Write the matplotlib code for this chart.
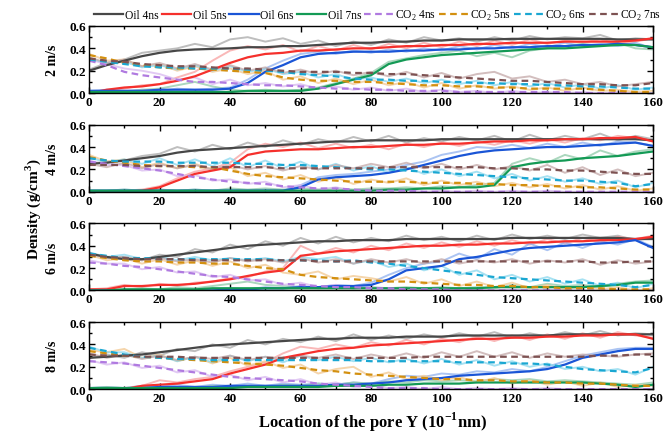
import numpy as np
import matplotlib
matplotlib.use('Agg')
import matplotlib.pyplot as plt
from matplotlib.ticker import MultipleLocator

plt.rcParams['font.family'] = ['Liberation Serif', 'DejaVu Serif']
plt.rcParams['mathtext.fontset'] = 'custom'
plt.rcParams['mathtext.rm'] = 'Liberation Serif'
plt.rcParams['mathtext.bf'] = 'Liberation Serif:bold'

# Location along pore (10^-1 nm), one value every 5 units
x = np.arange(0, 161, 5)

series_labels = ['Oil 4ns', 'Oil 5ns', 'Oil 6ns', 'Oil 7ns',
                 'CO$_2$ 4ns', 'CO$_2$ 5ns', 'CO$_2$ 6ns', 'CO$_2$ 7ns']
speed_labels = ['2 m/s', '4 m/s', '6 m/s', '8 m/s']
colors = ['#474747', '#f5302c', '#1a55d6', '#139a55',
          '#b07ae0', '#d39010', '#1aa7d2', '#7d5252']
raw_colors = ['#a8a8a8', '#f8a0a0', '#8fb0ee', '#8fcaa8',
              '#d8b8f0', '#f2c890', '#8ad8ee', '#c4a8a8']

# ---- 2 m/s: smoothed profiles ----
s2_oil4 = [0.20, 0.25, 0.29, 0.33, 0.36, 0.38, 0.39, 0.395, 0.40, 0.41, 0.41, 0.42, 0.42, 0.43, 0.44, 0.45, 0.45, 0.46, 0.46, 0.47, 0.47, 0.48, 0.48, 0.48, 0.485, 0.485, 0.485, 0.485, 0.485, 0.485, 0.48, 0.48, 0.48]
s2_oil5 = [0.00, 0.03, 0.05, 0.06, 0.08, 0.11, 0.15, 0.21, 0.27, 0.32, 0.35, 0.36, 0.38, 0.38, 0.39, 0.40, 0.40, 0.41, 0.42, 0.42, 0.43, 0.43, 0.44, 0.44, 0.45, 0.45, 0.45, 0.46, 0.46, 0.46, 0.46, 0.47, 0.49]
s2_oil6 = [0.02, 0.02, 0.02, 0.02, 0.03, 0.03, 0.03, 0.03, 0.04, 0.09, 0.19, 0.25, 0.32, 0.35, 0.36, 0.37, 0.37, 0.37, 0.38, 0.38, 0.39, 0.39, 0.40, 0.40, 0.41, 0.41, 0.42, 0.42, 0.43, 0.43, 0.44, 0.43, 0.41]
s2_oil7 = [0.01, 0.01, 0.01, 0.01, 0.01, 0.01, 0.01, 0.01, 0.01, 0.02, 0.02, 0.02, 0.02, 0.04, 0.08, 0.12, 0.16, 0.26, 0.30, 0.32, 0.34, 0.35, 0.36, 0.37, 0.38, 0.39, 0.40, 0.40, 0.41, 0.42, 0.43, 0.43, 0.41]
s2_co24 = [0.29, 0.25, 0.19, 0.16, 0.14, 0.12, 0.10, 0.10, 0.09, 0.08, 0.07, 0.07, 0.06, 0.05, 0.04, 0.04, 0.03, 0.03, 0.02, 0.02, 0.02, 0.01, 0.01, 0.01, 0.01, 0.01, 0.01, 0.01, 0.00, 0.00, 0.00, 0.00, 0.00]
s2_co25 = [0.34, 0.31, 0.27, 0.25, 0.23, 0.22, 0.22, 0.21, 0.20, 0.19, 0.18, 0.14, 0.12, 0.11, 0.11, 0.10, 0.10, 0.09, 0.08, 0.07, 0.07, 0.06, 0.06, 0.05, 0.05, 0.04, 0.04, 0.04, 0.04, 0.03, 0.02, 0.01, 0.01]
s2_co26 = [0.30, 0.28, 0.26, 0.24, 0.23, 0.23, 0.22, 0.22, 0.22, 0.21, 0.20, 0.19, 0.17, 0.16, 0.15, 0.13, 0.12, 0.12, 0.11, 0.11, 0.10, 0.10, 0.09, 0.09, 0.08, 0.08, 0.07, 0.07, 0.06, 0.06, 0.05, 0.04, 0.04]
s2_co27 = [0.31, 0.29, 0.28, 0.26, 0.25, 0.24, 0.24, 0.23, 0.22, 0.22, 0.21, 0.20, 0.19, 0.19, 0.19, 0.18, 0.18, 0.17, 0.17, 0.16, 0.15, 0.14, 0.13, 0.12, 0.11, 0.11, 0.10, 0.09, 0.08, 0.08, 0.07, 0.07, 0.09]
# ---- 2 m/s: raw profiles ----
r2_oil4 = [0.21, 0.27, 0.30, 0.36, 0.38, 0.40, 0.44, 0.41, 0.48, 0.50, 0.46, 0.49, 0.44, 0.47, 0.42, 0.46, 0.43, 0.48, 0.45, 0.50, 0.47, 0.49, 0.46, 0.50, 0.47, 0.51, 0.48, 0.50, 0.49, 0.52, 0.47, 0.49, 0.48]
r2_oil5 = [0.00, 0.03, 0.04, 0.07, 0.08, 0.14, 0.19, 0.29, 0.38, 0.42, 0.39, 0.43, 0.37, 0.42, 0.38, 0.43, 0.39, 0.44, 0.40, 0.45, 0.41, 0.46, 0.42, 0.47, 0.43, 0.48, 0.44, 0.47, 0.45, 0.48, 0.44, 0.46, 0.49]
r2_oil6 = [0.02, 0.03, 0.02, 0.03, 0.02, 0.04, 0.03, 0.04, 0.05, 0.12, 0.22, 0.29, 0.35, 0.37, 0.35, 0.38, 0.36, 0.39, 0.37, 0.40, 0.38, 0.42, 0.39, 0.43, 0.40, 0.44, 0.41, 0.45, 0.42, 0.44, 0.42, 0.45, 0.40]
r2_oil7 = [0.01, 0.02, 0.01, 0.03, 0.04, 0.07, 0.10, 0.06, 0.03, 0.02, 0.03, 0.02, 0.03, 0.05, 0.09, 0.13, 0.18, 0.28, 0.31, 0.34, 0.36, 0.38, 0.33, 0.36, 0.32, 0.38, 0.40, 0.42, 0.44, 0.42, 0.45, 0.40, 0.39]
r2_co24 = [0.30, 0.26, 0.22, 0.20, 0.17, 0.12, 0.14, 0.08, 0.12, 0.07, 0.09, 0.06, 0.08, 0.04, 0.06, 0.03, 0.05, 0.02, 0.04, 0.01, 0.03, 0.01, 0.02, 0.00, 0.02, 0.00, 0.01, 0.00, 0.01, 0.00, 0.01, 0.00, 0.00]
r2_co25 = [0.35, 0.29, 0.30, 0.24, 0.26, 0.20, 0.24, 0.19, 0.22, 0.17, 0.20, 0.12, 0.15, 0.09, 0.13, 0.08, 0.12, 0.07, 0.10, 0.05, 0.09, 0.04, 0.07, 0.04, 0.06, 0.03, 0.05, 0.02, 0.05, 0.02, 0.03, 0.01, 0.02]
r2_co26 = [0.31, 0.27, 0.28, 0.23, 0.25, 0.21, 0.25, 0.20, 0.24, 0.19, 0.22, 0.17, 0.19, 0.14, 0.17, 0.12, 0.14, 0.10, 0.13, 0.09, 0.12, 0.08, 0.11, 0.07, 0.10, 0.06, 0.09, 0.05, 0.08, 0.04, 0.07, 0.03, 0.05]
r2_co27 = [0.32, 0.27, 0.30, 0.24, 0.27, 0.22, 0.26, 0.21, 0.25, 0.20, 0.23, 0.18, 0.21, 0.17, 0.20, 0.16, 0.19, 0.15, 0.19, 0.14, 0.18, 0.13, 0.17, 0.19, 0.13, 0.15, 0.10, 0.12, 0.08, 0.10, 0.06, 0.08, 0.10]

# ---- 4 m/s: smoothed profiles ----
s4_oil4 = [0.25, 0.26, 0.28, 0.30, 0.32, 0.35, 0.37, 0.38, 0.39, 0.40, 0.41, 0.42, 0.43, 0.44, 0.45, 0.45, 0.46, 0.46, 0.46, 0.46, 0.47, 0.47, 0.47, 0.47, 0.47, 0.47, 0.47, 0.47, 0.47, 0.47, 0.47, 0.47, 0.46]
s4_oil5 = [0.00, 0.00, 0.00, 0.01, 0.04, 0.10, 0.16, 0.19, 0.22, 0.33, 0.36, 0.37, 0.38, 0.38, 0.39, 0.40, 0.40, 0.41, 0.42, 0.42, 0.43, 0.43, 0.44, 0.45, 0.45, 0.46, 0.46, 0.47, 0.47, 0.48, 0.48, 0.49, 0.45]
s4_oil6 = [0.01, 0.01, 0.01, 0.01, 0.01, 0.01, 0.01, 0.01, 0.01, 0.01, 0.01, 0.01, 0.04, 0.11, 0.13, 0.14, 0.15, 0.17, 0.20, 0.24, 0.28, 0.32, 0.35, 0.37, 0.38, 0.39, 0.40, 0.40, 0.41, 0.42, 0.43, 0.44, 0.41]
s4_oil7 = [0.01, 0.01, 0.01, 0.01, 0.01, 0.01, 0.01, 0.01, 0.01, 0.01, 0.01, 0.01, 0.01, 0.01, 0.01, 0.01, 0.01, 0.02, 0.02, 0.03, 0.03, 0.04, 0.04, 0.06, 0.22, 0.25, 0.27, 0.28, 0.30, 0.31, 0.32, 0.34, 0.36]
s4_co24 = [0.27, 0.25, 0.23, 0.21, 0.19, 0.16, 0.13, 0.11, 0.09, 0.08, 0.07, 0.05, 0.04, 0.03, 0.03, 0.02, 0.01, 0.01, 0.01, 0.00, 0.00, 0.00, 0.00, 0.00, 0.00, 0.00, 0.00, 0.00, 0.00, 0.00, 0.00, 0.00, 0.00]
s4_co25 = [0.31, 0.28, 0.26, 0.24, 0.23, 0.23, 0.22, 0.22, 0.19, 0.16, 0.14, 0.13, 0.12, 0.11, 0.10, 0.09, 0.09, 0.09, 0.09, 0.08, 0.08, 0.08, 0.07, 0.07, 0.06, 0.06, 0.05, 0.05, 0.04, 0.04, 0.03, 0.02, 0.02]
s4_co26 = [0.30, 0.28, 0.27, 0.27, 0.27, 0.26, 0.26, 0.26, 0.26, 0.25, 0.25, 0.24, 0.24, 0.23, 0.22, 0.21, 0.20, 0.20, 0.19, 0.18, 0.17, 0.16, 0.15, 0.14, 0.13, 0.12, 0.11, 0.10, 0.10, 0.09, 0.08, 0.05, 0.07]
s4_co27 = [0.24, 0.24, 0.24, 0.23, 0.23, 0.23, 0.23, 0.22, 0.22, 0.22, 0.22, 0.21, 0.21, 0.21, 0.21, 0.21, 0.21, 0.22, 0.22, 0.22, 0.22, 0.22, 0.22, 0.21, 0.21, 0.20, 0.20, 0.19, 0.19, 0.18, 0.17, 0.16, 0.16]
# ---- 4 m/s: raw profiles ----
r4_oil4 = [0.25, 0.27, 0.28, 0.32, 0.34, 0.40, 0.36, 0.42, 0.38, 0.44, 0.40, 0.46, 0.42, 0.47, 0.44, 0.49, 0.45, 0.50, 0.44, 0.48, 0.45, 0.49, 0.46, 0.50, 0.45, 0.51, 0.46, 0.50, 0.47, 0.52, 0.46, 0.50, 0.47]
r4_oil5 = [0.00, 0.00, 0.01, 0.02, 0.05, 0.12, 0.18, 0.21, 0.26, 0.38, 0.43, 0.40, 0.44, 0.39, 0.43, 0.39, 0.42, 0.38, 0.43, 0.40, 0.44, 0.41, 0.45, 0.42, 0.46, 0.43, 0.47, 0.44, 0.48, 0.46, 0.50, 0.48, 0.46]
r4_oil6 = [0.01, 0.01, 0.02, 0.01, 0.02, 0.01, 0.02, 0.01, 0.02, 0.01, 0.02, 0.01, 0.06, 0.13, 0.15, 0.16, 0.18, 0.20, 0.24, 0.27, 0.33, 0.36, 0.40, 0.39, 0.42, 0.39, 0.43, 0.40, 0.44, 0.41, 0.45, 0.44, 0.41]
r4_oil7 = [0.01, 0.01, 0.02, 0.01, 0.02, 0.01, 0.02, 0.01, 0.03, 0.02, 0.03, 0.02, 0.03, 0.02, 0.03, 0.02, 0.03, 0.03, 0.04, 0.03, 0.05, 0.04, 0.06, 0.08, 0.25, 0.30, 0.26, 0.33, 0.29, 0.37, 0.32, 0.36, 0.38]
r4_co24 = [0.28, 0.24, 0.24, 0.19, 0.20, 0.14, 0.15, 0.10, 0.11, 0.07, 0.09, 0.04, 0.06, 0.02, 0.04, 0.01, 0.02, 0.00, 0.02, 0.00, 0.01, 0.00, 0.01, 0.00, 0.01, 0.00, 0.01, 0.00, 0.00, 0.00, 0.00, 0.00, 0.00]
r4_co25 = [0.33, 0.27, 0.29, 0.22, 0.26, 0.21, 0.25, 0.20, 0.22, 0.14, 0.17, 0.11, 0.15, 0.09, 0.13, 0.07, 0.11, 0.08, 0.12, 0.06, 0.10, 0.06, 0.09, 0.05, 0.08, 0.04, 0.07, 0.03, 0.06, 0.02, 0.05, 0.01, 0.03]
r4_co26 = [0.31, 0.26, 0.29, 0.25, 0.30, 0.24, 0.29, 0.23, 0.30, 0.22, 0.28, 0.21, 0.27, 0.20, 0.25, 0.19, 0.23, 0.17, 0.22, 0.16, 0.20, 0.14, 0.18, 0.12, 0.16, 0.10, 0.14, 0.09, 0.12, 0.07, 0.10, 0.04, 0.08]
r4_co27 = [0.25, 0.22, 0.26, 0.21, 0.25, 0.21, 0.24, 0.20, 0.24, 0.20, 0.23, 0.19, 0.23, 0.20, 0.24, 0.21, 0.25, 0.22, 0.26, 0.21, 0.25, 0.20, 0.24, 0.20, 0.23, 0.19, 0.24, 0.17, 0.22, 0.15, 0.20, 0.14, 0.17]

# ---- 6 m/s: smoothed profiles ----
s6_oil4 = [0.33, 0.30, 0.28, 0.28, 0.30, 0.32, 0.34, 0.36, 0.38, 0.40, 0.41, 0.42, 0.43, 0.44, 0.44, 0.45, 0.45, 0.45, 0.46, 0.46, 0.46, 0.46, 0.46, 0.46, 0.47, 0.47, 0.47, 0.47, 0.47, 0.47, 0.47, 0.46, 0.46]
s6_oil5 = [0.01, 0.01, 0.04, 0.04, 0.05, 0.05, 0.06, 0.08, 0.10, 0.13, 0.16, 0.18, 0.31, 0.33, 0.35, 0.36, 0.37, 0.38, 0.39, 0.40, 0.40, 0.41, 0.41, 0.42, 0.42, 0.43, 0.43, 0.44, 0.44, 0.45, 0.45, 0.46, 0.48]
s6_oil6 = [0.00, 0.00, 0.00, 0.00, 0.00, 0.00, 0.00, 0.00, 0.01, 0.01, 0.02, 0.02, 0.03, 0.03, 0.04, 0.04, 0.05, 0.10, 0.18, 0.20, 0.22, 0.28, 0.30, 0.33, 0.36, 0.38, 0.39, 0.40, 0.41, 0.42, 0.43, 0.45, 0.38]
s6_oil7 = [0.00, 0.00, 0.01, 0.01, 0.01, 0.01, 0.01, 0.02, 0.02, 0.02, 0.02, 0.02, 0.02, 0.02, 0.02, 0.02, 0.02, 0.02, 0.02, 0.02, 0.02, 0.02, 0.02, 0.03, 0.03, 0.03, 0.03, 0.03, 0.03, 0.04, 0.05, 0.07, 0.07]
s6_co24 = [0.25, 0.24, 0.22, 0.21, 0.19, 0.17, 0.15, 0.13, 0.12, 0.10, 0.08, 0.06, 0.05, 0.04, 0.03, 0.03, 0.02, 0.02, 0.01, 0.01, 0.01, 0.00, 0.00, 0.00, 0.00, 0.00, 0.00, 0.00, 0.00, 0.00, 0.00, 0.00, 0.00]
s6_co25 = [0.31, 0.29, 0.27, 0.26, 0.26, 0.25, 0.25, 0.24, 0.24, 0.22, 0.20, 0.19, 0.14, 0.12, 0.11, 0.10, 0.09, 0.08, 0.08, 0.07, 0.06, 0.05, 0.05, 0.04, 0.04, 0.03, 0.03, 0.02, 0.02, 0.02, 0.01, 0.01, 0.01]
s6_co26 = [0.33, 0.31, 0.29, 0.29, 0.28, 0.28, 0.28, 0.28, 0.28, 0.28, 0.28, 0.27, 0.27, 0.27, 0.26, 0.27, 0.25, 0.24, 0.22, 0.20, 0.18, 0.16, 0.14, 0.12, 0.11, 0.10, 0.09, 0.08, 0.07, 0.06, 0.05, 0.03, 0.05]
s6_co27 = [0.32, 0.30, 0.29, 0.28, 0.28, 0.28, 0.27, 0.27, 0.27, 0.27, 0.27, 0.27, 0.27, 0.26, 0.26, 0.26, 0.26, 0.26, 0.26, 0.26, 0.26, 0.26, 0.26, 0.26, 0.26, 0.26, 0.26, 0.26, 0.26, 0.25, 0.25, 0.26, 0.26]
# ---- 6 m/s: raw profiles ----
r6_oil4 = [0.34, 0.29, 0.30, 0.27, 0.32, 0.30, 0.37, 0.34, 0.41, 0.37, 0.44, 0.40, 0.47, 0.42, 0.48, 0.43, 0.47, 0.44, 0.49, 0.45, 0.48, 0.44, 0.49, 0.45, 0.50, 0.46, 0.49, 0.46, 0.50, 0.47, 0.49, 0.45, 0.47]
r6_oil5 = [0.01, 0.02, 0.05, 0.03, 0.06, 0.04, 0.07, 0.08, 0.11, 0.12, 0.17, 0.20, 0.40, 0.33, 0.38, 0.34, 0.40, 0.36, 0.42, 0.38, 0.43, 0.39, 0.44, 0.40, 0.45, 0.41, 0.46, 0.42, 0.47, 0.43, 0.48, 0.46, 0.49]
r6_oil6 = [0.00, 0.01, 0.00, 0.01, 0.00, 0.01, 0.01, 0.01, 0.02, 0.01, 0.03, 0.02, 0.04, 0.03, 0.05, 0.04, 0.07, 0.14, 0.20, 0.24, 0.26, 0.33, 0.28, 0.37, 0.32, 0.42, 0.36, 0.43, 0.38, 0.44, 0.41, 0.46, 0.39]
r6_oil7 = [0.00, 0.01, 0.01, 0.02, 0.01, 0.03, 0.02, 0.04, 0.06, 0.08, 0.05, 0.04, 0.03, 0.02, 0.03, 0.02, 0.03, 0.02, 0.03, 0.02, 0.03, 0.02, 0.03, 0.02, 0.05, 0.03, 0.06, 0.04, 0.05, 0.03, 0.06, 0.08, 0.09]
r6_co24 = [0.27, 0.24, 0.24, 0.19, 0.21, 0.16, 0.17, 0.12, 0.14, 0.09, 0.10, 0.05, 0.07, 0.03, 0.05, 0.02, 0.03, 0.01, 0.02, 0.00, 0.02, 0.00, 0.01, 0.00, 0.01, 0.00, 0.01, 0.00, 0.00, 0.00, 0.00, 0.00, 0.00]
r6_co25 = [0.32, 0.27, 0.29, 0.24, 0.28, 0.23, 0.27, 0.22, 0.26, 0.20, 0.23, 0.16, 0.14, 0.17, 0.10, 0.13, 0.11, 0.08, 0.12, 0.06, 0.10, 0.04, 0.08, 0.03, 0.07, 0.02, 0.05, 0.01, 0.04, 0.01, 0.03, 0.00, 0.02]
r6_co26 = [0.34, 0.30, 0.32, 0.28, 0.30, 0.27, 0.30, 0.27, 0.29, 0.27, 0.29, 0.26, 0.30, 0.28, 0.30, 0.24, 0.27, 0.21, 0.24, 0.18, 0.22, 0.14, 0.18, 0.10, 0.14, 0.08, 0.12, 0.06, 0.10, 0.04, 0.07, 0.02, 0.06]
r6_co27 = [0.33, 0.29, 0.30, 0.27, 0.29, 0.26, 0.28, 0.25, 0.29, 0.26, 0.28, 0.25, 0.29, 0.25, 0.28, 0.24, 0.28, 0.25, 0.28, 0.24, 0.28, 0.24, 0.27, 0.25, 0.28, 0.24, 0.27, 0.25, 0.28, 0.23, 0.27, 0.24, 0.26]

# ---- 8 m/s: smoothed profiles ----
s8_oil4 = [0.28, 0.29, 0.30, 0.31, 0.33, 0.35, 0.37, 0.39, 0.40, 0.41, 0.42, 0.43, 0.44, 0.45, 0.45, 0.46, 0.46, 0.46, 0.47, 0.47, 0.47, 0.48, 0.48, 0.48, 0.48, 0.48, 0.48, 0.49, 0.49, 0.49, 0.49, 0.49, 0.49]
s8_oil5 = [0.00, 0.00, 0.00, 0.03, 0.04, 0.05, 0.07, 0.09, 0.14, 0.18, 0.22, 0.28, 0.31, 0.34, 0.36, 0.37, 0.39, 0.40, 0.41, 0.42, 0.43, 0.44, 0.45, 0.45, 0.46, 0.46, 0.47, 0.47, 0.48, 0.48, 0.49, 0.49, 0.45]
s8_oil6 = [0.01, 0.01, 0.01, 0.01, 0.02, 0.02, 0.02, 0.02, 0.03, 0.03, 0.03, 0.03, 0.03, 0.03, 0.04, 0.04, 0.05, 0.06, 0.08, 0.09, 0.10, 0.12, 0.13, 0.14, 0.15, 0.16, 0.18, 0.22, 0.28, 0.31, 0.34, 0.36, 0.36]
s8_oil7 = [0.01, 0.01, 0.01, 0.01, 0.01, 0.01, 0.01, 0.01, 0.01, 0.02, 0.02, 0.02, 0.02, 0.02, 0.03, 0.03, 0.03, 0.04, 0.04, 0.05, 0.05, 0.05, 0.06, 0.06, 0.06, 0.06, 0.06, 0.06, 0.06, 0.05, 0.04, 0.02, 0.04]
s8_co24 = [0.25, 0.24, 0.23, 0.21, 0.19, 0.17, 0.15, 0.13, 0.11, 0.10, 0.09, 0.08, 0.07, 0.05, 0.04, 0.03, 0.02, 0.01, 0.01, 0.01, 0.00, 0.00, 0.00, 0.00, 0.00, 0.00, 0.00, 0.00, 0.00, 0.00, 0.00, 0.00, 0.00]
s8_co25 = [0.34, 0.32, 0.30, 0.29, 0.28, 0.27, 0.26, 0.25, 0.24, 0.23, 0.22, 0.21, 0.19, 0.17, 0.16, 0.14, 0.13, 0.12, 0.11, 0.10, 0.09, 0.09, 0.08, 0.08, 0.07, 0.07, 0.06, 0.06, 0.05, 0.05, 0.04, 0.03, 0.03]
s8_co26 = [0.37, 0.34, 0.31, 0.29, 0.28, 0.27, 0.27, 0.26, 0.26, 0.26, 0.26, 0.26, 0.26, 0.26, 0.26, 0.26, 0.25, 0.25, 0.25, 0.25, 0.25, 0.24, 0.24, 0.24, 0.23, 0.23, 0.22, 0.20, 0.18, 0.17, 0.16, 0.15, 0.19]
s8_co27 = [0.31, 0.30, 0.30, 0.29, 0.29, 0.29, 0.28, 0.28, 0.28, 0.28, 0.28, 0.28, 0.28, 0.28, 0.28, 0.28, 0.28, 0.28, 0.28, 0.29, 0.29, 0.29, 0.29, 0.29, 0.29, 0.29, 0.29, 0.29, 0.29, 0.30, 0.30, 0.31, 0.31]
# ---- 8 m/s: raw profiles ----
r8_oil4 = [0.28, 0.31, 0.28, 0.33, 0.30, 0.36, 0.34, 0.40, 0.37, 0.44, 0.40, 0.45, 0.42, 0.47, 0.43, 0.49, 0.44, 0.48, 0.45, 0.49, 0.46, 0.50, 0.47, 0.51, 0.46, 0.50, 0.47, 0.51, 0.48, 0.52, 0.48, 0.50, 0.49]
r8_oil5 = [0.00, 0.00, 0.01, 0.03, 0.08, 0.06, 0.09, 0.11, 0.16, 0.20, 0.24, 0.32, 0.38, 0.36, 0.40, 0.37, 0.42, 0.39, 0.44, 0.40, 0.45, 0.42, 0.47, 0.43, 0.48, 0.44, 0.49, 0.45, 0.50, 0.46, 0.51, 0.48, 0.46]
r8_oil6 = [0.01, 0.02, 0.01, 0.03, 0.02, 0.04, 0.02, 0.04, 0.03, 0.05, 0.03, 0.05, 0.04, 0.05, 0.04, 0.06, 0.05, 0.09, 0.12, 0.11, 0.14, 0.13, 0.16, 0.15, 0.18, 0.16, 0.20, 0.25, 0.30, 0.33, 0.36, 0.37, 0.37]
r8_oil7 = [0.01, 0.02, 0.01, 0.02, 0.01, 0.02, 0.01, 0.03, 0.02, 0.03, 0.02, 0.04, 0.03, 0.05, 0.04, 0.06, 0.05, 0.07, 0.06, 0.08, 0.07, 0.08, 0.07, 0.09, 0.08, 0.09, 0.07, 0.08, 0.07, 0.06, 0.05, 0.04, 0.06]
r8_co24 = [0.26, 0.22, 0.24, 0.19, 0.21, 0.15, 0.17, 0.11, 0.13, 0.08, 0.11, 0.06, 0.09, 0.04, 0.06, 0.02, 0.04, 0.01, 0.02, 0.00, 0.02, 0.00, 0.01, 0.00, 0.01, 0.00, 0.01, 0.00, 0.00, 0.00, 0.00, 0.00, 0.00]
r8_co25 = [0.35, 0.33, 0.36, 0.28, 0.31, 0.25, 0.29, 0.23, 0.28, 0.21, 0.25, 0.19, 0.22, 0.14, 0.18, 0.20, 0.11, 0.15, 0.09, 0.12, 0.08, 0.11, 0.06, 0.10, 0.05, 0.08, 0.04, 0.07, 0.03, 0.06, 0.02, 0.04, 0.03]
r8_co26 = [0.38, 0.33, 0.33, 0.28, 0.30, 0.25, 0.29, 0.24, 0.30, 0.25, 0.29, 0.24, 0.30, 0.26, 0.29, 0.25, 0.28, 0.24, 0.27, 0.23, 0.27, 0.22, 0.26, 0.21, 0.25, 0.20, 0.23, 0.18, 0.20, 0.16, 0.18, 0.13, 0.20]
r8_co27 = [0.32, 0.28, 0.31, 0.27, 0.30, 0.26, 0.29, 0.27, 0.30, 0.26, 0.29, 0.27, 0.30, 0.28, 0.31, 0.27, 0.31, 0.28, 0.32, 0.28, 0.33, 0.29, 0.34, 0.29, 0.33, 0.28, 0.32, 0.29, 0.31, 0.30, 0.29, 0.31, 0.32]

panels = [
    ([s2_oil4, s2_oil5, s2_oil6, s2_oil7, s2_co24, s2_co25, s2_co26, s2_co27],
     [r2_oil4, r2_oil5, r2_oil6, r2_oil7, r2_co24, r2_co25, r2_co26, r2_co27]),
    ([s4_oil4, s4_oil5, s4_oil6, s4_oil7, s4_co24, s4_co25, s4_co26, s4_co27],
     [r4_oil4, r4_oil5, r4_oil6, r4_oil7, r4_co24, r4_co25, r4_co26, r4_co27]),
    ([s6_oil4, s6_oil5, s6_oil6, s6_oil7, s6_co24, s6_co25, s6_co26, s6_co27],
     [r6_oil4, r6_oil5, r6_oil6, r6_oil7, r6_co24, r6_co25, r6_co26, r6_co27]),
    ([s8_oil4, s8_oil5, s8_oil6, s8_oil7, s8_co24, s8_co25, s8_co26, s8_co27],
     [r8_oil4, r8_oil5, r8_oil6, r8_oil7, r8_co24, r8_co25, r8_co26, r8_co27]),
]

fig, axes = plt.subplots(4, 1, figsize=(6.65, 4.35), dpi=100)
fig.subplots_adjust(left=0.134, right=0.982, top=0.938, bottom=0.103, hspace=0.47)

handles = []
for ax, speed, (smooth, raw) in zip(axes, speed_labels, panels):
    for i in range(8):
        ax.plot(x, raw[i], color=raw_colors[i], lw=1.4, alpha=0.75, zorder=1)
    for i in range(8):
        ls = '-' if i < 4 else (0, (3, 2))
        line, = ax.plot(x, smooth[i], color=colors[i], lw=1.6, ls=ls, zorder=2,
                        label=series_labels[i])
        if ax is axes[0]:
            handles.append(line)
    ax.set_xlim(0, 160)
    ax.set_ylim(0, 0.6)
    ax.xaxis.set_major_locator(MultipleLocator(20))
    ax.xaxis.set_minor_locator(MultipleLocator(10))
    ax.yaxis.set_major_locator(MultipleLocator(0.2))
    ax.yaxis.set_minor_locator(MultipleLocator(0.1))
    ax.yaxis.set_major_formatter(plt.FormatStrFormatter('%.1f'))
    ax.tick_params(which='both', direction='in', top=True, right=True, width=1.0)
    ax.tick_params(which='major', length=4, labelsize=9.5, pad=2)
    ax.tick_params(which='minor', length=2.5)
    for lab in ax.get_xticklabels() + ax.get_yticklabels():
        lab.set_fontweight('bold')
    for sp in ax.spines.values():
        sp.set_linewidth(1.0)
    ax.set_ylabel(speed, fontsize=10, fontweight='bold', labelpad=8)

fig.legend(handles=handles, loc='upper center', bbox_to_anchor=(0.568, 0.995),
           ncol=8, frameon=False, fontsize=8.3, handlelength=2.55,
           handletextpad=0.15, columnspacing=0.25, borderaxespad=0.2)

fig.text(0.05, 0.52, 'Density (g/cm$^\\mathbf{3}$)', rotation=90,
         ha='center', va='center', fontsize=11, fontweight='bold')
fig.text(0.56, 0.03, 'Location of the pore Y (10$^\\mathbf{-1}$nm)',
         ha='center', va='center', fontsize=12, fontweight='bold')

fig.savefig('out.png', dpi=100)
